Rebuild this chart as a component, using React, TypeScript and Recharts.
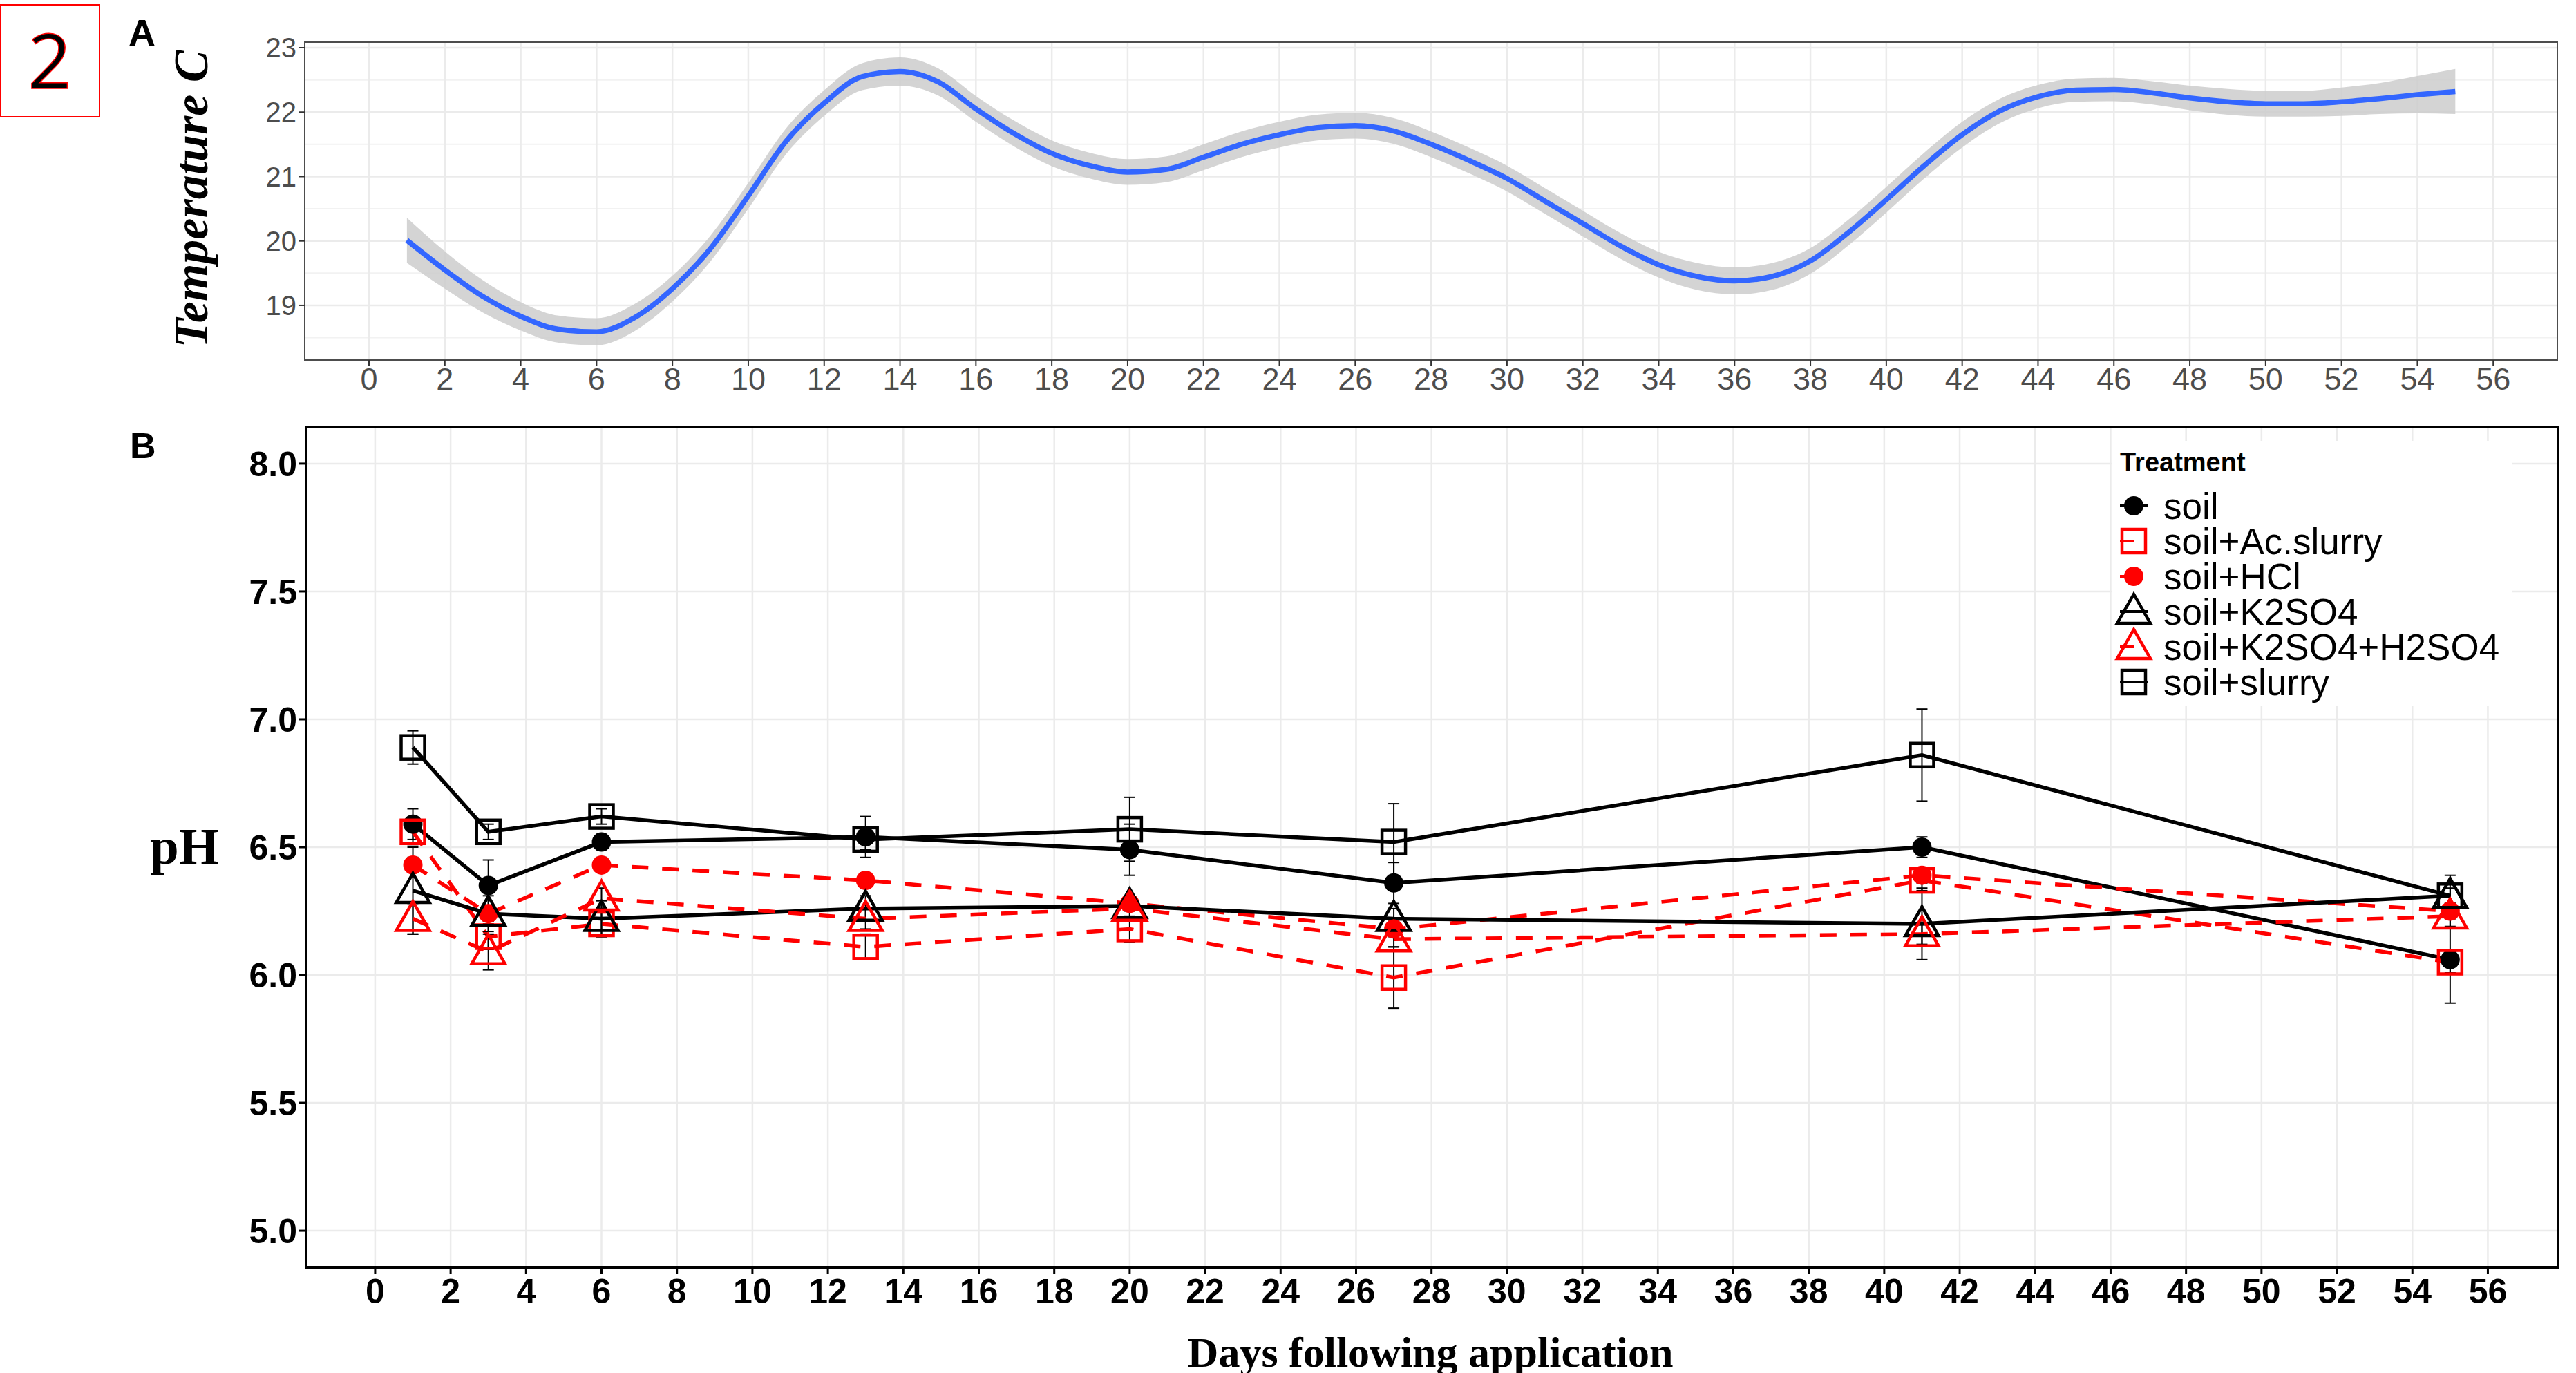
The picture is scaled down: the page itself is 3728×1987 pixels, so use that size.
import React from "react";
import {
  Area,
  CartesianGrid,
  ComposedChart,
  ErrorBar,
  Line,
  ReferenceArea,
  XAxis,
  YAxis,
} from "recharts";

// panel A: smoothed temperature (loess curve + confidence band)
const tempDays = [
  1, 2, 3, 4, 5, 6, 7, 8, 9, 10, 11, 12, 13, 14, 15, 16, 17, 18, 19, 20, 21, 22, 23, 24, 25, 26, 27, 28,
  29, 30, 31, 32, 33, 34, 35, 36, 37, 38, 39, 40, 41, 42, 43, 44, 45, 46, 47, 48, 49, 50, 51, 52, 53, 54, 55,
];
const tempMean = [
  20.01, 19.55, 19.14, 18.83, 18.63, 18.59, 18.81, 19.26, 19.88, 20.7, 21.55, 22.14, 22.55, 22.63, 22.47,
  22.05, 21.67, 21.36, 21.17, 21.07, 21.11, 21.3, 21.5, 21.65, 21.76, 21.79, 21.71, 21.5, 21.25, 20.97,
  20.62, 20.27, 19.92, 19.63, 19.45, 19.38, 19.45, 19.69, 20.13, 20.64, 21.17, 21.65, 22.02, 22.24, 22.34,
  22.35, 22.3, 22.22, 22.16, 22.13, 22.13, 22.16, 22.21, 22.27, 22.32,
];
const tempHalfBand = [
  0.35, 0.29, 0.25, 0.22, 0.21, 0.21, 0.21, 0.2, 0.2, 0.2, 0.2, 0.2, 0.21, 0.22, 0.21, 0.2, 0.2, 0.2, 0.2,
  0.2, 0.2, 0.2, 0.2, 0.2, 0.2, 0.2, 0.2, 0.2, 0.2, 0.2, 0.2, 0.2, 0.2, 0.2, 0.21, 0.21, 0.21, 0.2, 0.2,
  0.2, 0.2, 0.2, 0.19, 0.18, 0.18, 0.18, 0.18, 0.19, 0.2, 0.2, 0.2, 0.22, 0.24, 0.29, 0.35,
];
const dayTicks = [0, 2, 4, 6, 8, 10, 12, 14, 16, 18, 20, 22, 24, 26, 28, 30, 32, 34, 36, 38, 40, 42, 44, 46, 48, 50, 52, 54, 56];
const tempTicks = [19, 20, 21, 22, 23];
const tempMinor = [18.5, 19.5, 20.5, 21.5, 22.5];

// panel B: pH by treatment
const phDays = [1, 3, 6, 13, 20, 27, 41, 55];
const soil = [6.59, 6.35, 6.52, 6.54, 6.49, 6.36, 6.5, 6.06];
const soilErr = [0.06, 0.1, 0.03, 0.08, 0.1, 0.08, 0.04, 0.17];
const acSlurry = [6.56, 6.15, 6.2, 6.11, 6.18, 5.99, 6.37, 6.05];
const acSlurryErr = [0.05, 0.05, 0.05, 0.05, 0.05, 0.12, 0.04, 0.04];
const hcl = [6.43, 6.24, 6.43, 6.37, 6.28, 6.18, 6.39, 6.25];
const hclErr = [0.03, 0.03, 0.03, 0.03, 0.03, 0.03, 0.03, 0.03];
const k2so4 = [6.33, 6.24, 6.22, 6.26, 6.27, 6.22, 6.2, 6.31];
const k2so4Err = [0.17, 0.07, 0.07, 0.05, 0.04, 0.04, 0.14, 0.08];
const k2so4H2so4 = [6.22, 6.09, 6.3, 6.22, 6.26, 6.14, 6.16, 6.23];
const k2so4H2so4Err = [0.06, 0.07, 0.04, 0.04, 0.04, 0.03, 0.04, 0.04];
const slurry = [6.89, 6.56, 6.62, 6.53, 6.57, 6.52, 6.86, 6.31];
const slurryErr = [0.065, 0.03, 0.03, 0.04, 0.125, 0.15, 0.18, 0.03];
const phTicks = [5, 5.5, 6, 6.5, 7, 7.5, 8];

const RED = "#FF0000";
const BLACK = "#000000";

type Shape = "circle" | "square" | "triangle";

const treatments: { key: string; name: string; color: string; shape: Shape; dashed: boolean }[] = [
  { key: "soil", name: "soil", color: BLACK, shape: "circle", dashed: false },
  { key: "acSlurry", name: "soil+Ac.slurry", color: RED, shape: "square", dashed: true },
  { key: "hcl", name: "soil+HCl", color: RED, shape: "circle", dashed: true },
  { key: "k2so4", name: "soil+K2SO4", color: BLACK, shape: "triangle", dashed: false },
  { key: "k2so4H2so4", name: "soil+K2SO4+H2SO4", color: RED, shape: "triangle", dashed: true },
  { key: "slurry", name: "soil+slurry", color: BLACK, shape: "square", dashed: false },
];

const tempRows = tempDays.map((d, i) => ({
  day: d,
  temp: tempMean[i],
  band: [tempMean[i] - tempHalfBand[i], tempMean[i] + tempHalfBand[i]],
}));

const phRows = phDays.map((d, i) => ({
  day: d,
  soil: soil[i],
  soilErr: soilErr[i],
  acSlurry: acSlurry[i],
  acSlurryErr: acSlurryErr[i],
  hcl: hcl[i],
  hclErr: hclErr[i],
  k2so4: k2so4[i],
  k2so4Err: k2so4Err[i],
  k2so4H2so4: k2so4H2so4[i],
  k2so4H2so4Err: k2so4H2so4Err[i],
  slurry: slurry[i],
  slurryErr: slurryErr[i],
}));

function marker(shape: Shape, color: string, cx: number, cy: number, key?: string | number) {
  if (shape === "circle") return <circle key={key} cx={cx} cy={cy} r={14} fill={color} />;
  if (shape === "square")
    return <rect key={key} x={cx - 17} y={cy - 17} width={34} height={34} fill="none" stroke={color} strokeWidth={4.5} />;
  return (
    <polygon
      key={key}
      points={`${cx},${cy - 25} ${cx - 24},${cy + 17} ${cx + 24},${cy + 17}`}
      fill="none"
      stroke={color}
      strokeWidth={4.5}
      strokeLinejoin="miter"
    />
  );
}

const sans = "'Liberation Sans', Arial, sans-serif";
const serif = "'Liberation Serif', 'Times New Roman', serif";

function Overlay() {
  return (
    <svg width={3728} height={1987} style={{ position: "absolute", left: 0, top: 0, pointerEvents: "none" }}>
      <rect x={1} y={7} width={143} height={162} fill="none" stroke={RED} strokeWidth={2} />
      <text x={72} y={128} textAnchor="middle" fontSize={110} fontFamily="'Open Sans', sans-serif" fill="#000" stroke={RED} strokeWidth={1.5}>
        2
      </text>
      <text x={186} y={66} fontSize={54} fontWeight="bold" fontFamily={sans}>A</text>
      <text x={188} y={663} fontSize={52} fontWeight="bold" fontFamily={sans}>B</text>
      <text
        transform="translate(300,288) rotate(-90)"
        textAnchor="middle"
        fontSize={70}
        fontStyle="italic"
        fontWeight="bold"
        fontFamily={serif}
      >
        Temperature C
      </text>
      <text x={267} y={1250} textAnchor="middle" fontSize={75} fontWeight="bold" fontFamily={serif}>pH</text>
      <text x={2070} y={1978} textAnchor="middle" fontSize={62} fontWeight="bold" fontFamily={serif}>
        Days following application
      </text>

      {/* legend */}
      <rect x={3056} y={638} width={580} height={384} fill="#fff" />
      <text x={3068} y={682} fontSize={38} fontWeight="bold" fontFamily={sans}>Treatment</text>
      {treatments.map((t, i) => {
        const cy = 732 + i * 51;
        return (
          <g key={t.key}>
            {marker(t.shape, t.color, 3088, cy)}
            <line
              x1={3068}
              x2={t.color === RED ? 3088 : 3108}
              y1={cy}
              y2={cy}
              stroke={t.color}
              strokeWidth={4}
            />
            <text x={3131} y={cy + 19} fontSize={53} fontFamily={sans}>{t.name}</text>
          </g>
        );
      })}
    </svg>
  );
}

export default function App() {
  return (
    <div style={{ position: "absolute", left: 0, top: 0, width: 3728, height: 1987, background: "#fff" }}>
      <div style={{ position: "absolute", left: 0, top: 0 }}>
        <ComposedChart width={3728} height={600} data={tempRows} margin={{ top: 61, right: 27, bottom: 19, left: 341 }}>
          <CartesianGrid horizontalValues={tempMinor} vertical={false} stroke="#f2f2f2" strokeWidth={2} />
          <CartesianGrid horizontalValues={tempTicks} verticalValues={dayTicks} stroke="#ebebeb" strokeWidth={2.5} />
          <XAxis
            type="number"
            dataKey="day"
            domain={[-1.694, 57.69]}
            ticks={dayTicks}
            allowDataOverflow
            interval={0}
            height={60}
            axisLine={false}
            tickSize={9}
            tickMargin={2}
            tickLine={{ stroke: "#333", strokeWidth: 2 }}
            tick={{ fontSize: 45, fill: "#4d4d4d", fontFamily: sans }}
          />
          <YAxis
            type="number"
            domain={[18.152, 23.086]}
            ticks={tempTicks}
            allowDataOverflow
            interval={0}
            width={100}
            axisLine={false}
            tickSize={9}
            tickMargin={3}
            tickLine={{ stroke: "#333", strokeWidth: 2 }}
            tick={{ fontSize: 40, fill: "#4d4d4d", fontFamily: sans }}
          />
          <Area dataKey="band" type="monotone" fill="#cccccc" fillOpacity={0.85} stroke="none" isAnimationActive={false} />
          <Line dataKey="temp" type="monotone" stroke="#3366FF" strokeWidth={7.5} dot={false} isAnimationActive={false} />
          <ReferenceArea x1={-1.694} x2={57.69} y1={18.152} y2={23.086} fill="none" stroke="#4d4d4d" strokeWidth={2} ifOverflow="visible" />
        </ComposedChart>
      </div>

      <div style={{ position: "absolute", left: 0, top: 560 }}>
        <ComposedChart width={3728} height={1427} data={phRows} margin={{ top: 58, right: 26, bottom: 73, left: 283 }}>
          <CartesianGrid horizontalValues={phTicks} verticalValues={dayTicks} stroke="#ebebeb" strokeWidth={2.5} />
          <XAxis
            type="number"
            dataKey="day"
            domain={[-1.83, 57.86]}
            ticks={dayTicks}
            allowDataOverflow
            interval={0}
            height={80}
            axisLine={false}
            tickSize={10}
            tickMargin={6}
            tickLine={{ stroke: BLACK, strokeWidth: 3 }}
            tick={{ fontSize: 50, fill: BLACK, fontWeight: "bold", fontFamily: sans }}
          />
          <YAxis
            type="number"
            domain={[4.857, 8.143]}
            ticks={phTicks}
            allowDataOverflow
            interval={0}
            width={160}
            axisLine={false}
            tickSize={10}
            tickMargin={3}
            tickFormatter={(v: number) => v.toFixed(1)}
            tickLine={{ stroke: BLACK, strokeWidth: 3 }}
            tick={{ fontSize: 50, fill: BLACK, fontWeight: "bold", fontFamily: sans }}
          />
          {treatments.map((t) => (
            <Line
              key={t.key}
              dataKey={t.key}
              name={t.name}
              type="linear"
              stroke={t.color}
              strokeWidth={5.5}
              strokeDasharray={t.dashed ? "24 20" : undefined}
              isAnimationActive={false}
              dot={(p: any) => marker(t.shape, t.color, p.cx, p.cy, `${t.key}-${p.index}`)}
              activeDot={false}
            >
              <ErrorBar dataKey={`${t.key}Err`} direction="y" width={8} stroke={BLACK} strokeWidth={2} isAnimationActive={false} />
            </Line>
          ))}
          <ReferenceArea x1={-1.83} x2={57.86} y1={4.857} y2={8.143} fill="none" stroke={BLACK} strokeWidth={4} ifOverflow="visible" />
        </ComposedChart>
      </div>

      <Overlay />
    </div>
  );
}
